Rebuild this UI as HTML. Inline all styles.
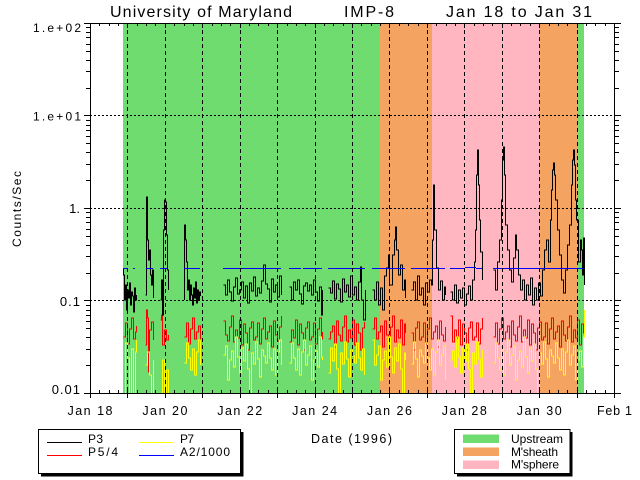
<!DOCTYPE html>
<html><head><meta charset="utf-8"><style>
html,body{margin:0;padding:0;background:#fff;width:640px;height:480px;overflow:hidden}
svg{position:absolute;left:0;top:0;font-family:"Liberation Sans",sans-serif}
</style></head><body>
<svg width="640" height="480" viewBox="0 0 640 480" xmlns="http://www.w3.org/2000/svg">
<rect width="640" height="480" fill="#fff"/>
<defs><clipPath id="cp"><rect x="90" y="23" width="524" height="370"/></clipPath></defs>
<g shape-rendering="crispEdges">
<rect x="123" y="23" width="257" height="370" fill="#6fdc6f"/>
<rect x="380" y="23" width="52" height="370" fill="#f4a460"/>
<rect x="432" y="23" width="107.3" height="370" fill="#ffb6c1"/>
<rect x="539.3" y="23" width="38" height="370" fill="#f4a460"/>
<rect x="577.3" y="23" width="6.7" height="370" fill="#6fdc6f"/>
</g>

<g clip-path="url(#cp)" fill="none" stroke-width="1" shape-rendering="crispEdges">
<path stroke="#ff0000" d="M123.5 337H125.5V323H127.5V344H129.5V329H131.5V318H133.5V339H135.5V332H136.5V326
M145.5 345H146.5V310H147.5V318H148.5V372H149.5V330H151.5V322H153.5V340
M160.5 320H161.5V315H162.5V345H164.5V330H166.5V340H168.5V335
M184.5 337H186.5V323H188.5V344H190.5V329H192.5V318H194.5V339H196.5V332H198.5V326H200.5V347
M223.5 321H225.5V335H227.5V341H229.5V327H231.5V316H233.5V342H235.5V330H237.5V338H239.5V320H241.5V345H243.5V324H245.5V333H247.5V350H249.5V328H251.5V322H253.5V340H255.5V337H257.5V323H259.5V344H261.5V329H263.5V318H265.5V339H267.5V332H269.5V326H271.5V347H273.5V321H275.5V335H277.5V341H279.5V327H281.5V316
M289.5 342H291.5V330H293.5V338H295.5V320H297.5V345H299.5V324H301.5V333H303.5V350H305.5V328H307.5V322H309.5V340H311.5V337H313.5V323H315.5V344H317.5V329H319.5V318H321.5V339H322.5V332
M328.5 339H330.5V332H332.5V326H334.5V347H336.5V321H338.5V335H340.5V341H342.5V327H344.5V316H346.5V342H348.5V330H350.5V338H352.5V320H354.5V345H356.5V324H358.5V333H360.5V350H362.5V328H364.5V322
M372.5 329H374.5V318H376.5V339H378.5V332H380.5V326H382.5V347H384.5V321H386.5V335H388.5V341H390.5V327H392.5V316H394.5V342H396.5V330H398.5V338H400.5V320H402.5V345H404.5V324H405.5V333
M411.5 333H413.5V350H415.5V328H417.5V322H419.5V340H421.5V337H423.5V323H425.5V344H427.5V329H429.5V318H431.5V339H433.5V332H435.5V326H437.5V347H439.5V321H441.5V335H443.5V341H445.5V327
M450.5 316H452.5V342H454.5V330H456.5V338H458.5V320H460.5V345H462.5V324H464.5V333H466.5V350H468.5V328H470.5V322H472.5V340H474.5V337H476.5V323H478.5V344H480.5V329H482.5V318
M493.5 337H495.5V323H497.5V344H499.5V329H501.5V318H503.5V339H505.5V332H507.5V326H509.5V347H511.5V321H513.5V335H515.5V341H517.5V327H519.5V316H521.5V342H523.5V330H525.5V338H527.5V320H529.5V345H531.5V324H533.5V333H535.5V350H537.5V328H539.5V322H541.5V340H543.5V337H545.5V323H547.5V344H549.5V329H551.5V318H553.5V339H555.5V332H557.5V326H559.5V347H561.5V321H563.5V335H565.5V341H567.5V327H569.5V316H571.5V342H573.5V330H575.5V338H577.5V320H579.5V345H581.5V324H583.5V333H584.5V328"/>
<path stroke="#ffff00" d="M123.5 395H125.5V343H127.5V358H129.5V395H131.5V349H133.5V395H135.5V352H136.5V340
M145.5 365H147.5V352H149.5V375H151.5V395H153.5V360
M160.5 395H162.5V360H164.5V395H166.5V370H168.5V395
M184.5 363H186.5V343H188.5V358H190.5V370H192.5V349H194.5V375H196.5V352H198.5V340H200.5V365
M223.5 355H225.5V346H227.5V380H229.5V360H231.5V351H233.5V367H235.5V337H237.5V357H239.5V373H241.5V348H243.5V361H245.5V344H247.5V369H249.5V395H251.5V353H253.5V364H255.5V342H257.5V359H259.5V377H261.5V350H263.5V356H265.5V363H267.5V343H269.5V358H271.5V370H273.5V349H275.5V375H277.5V352H279.5V340H281.5V365
M289.5 363H291.5V343H293.5V358H295.5V370H297.5V349H299.5V375H301.5V352H303.5V340H305.5V365H307.5V355H309.5V346H311.5V380H313.5V360H315.5V351H317.5V367H319.5V337H321.5V357H322.5V360
M328.5 373H330.5V348H332.5V361H334.5V344H336.5V369H338.5V395H340.5V353H342.5V364H344.5V342H346.5V359H348.5V377H350.5V350H352.5V356H354.5V363H356.5V343H358.5V358H360.5V370H362.5V349H364.5V375
M372.5 340H374.5V365H376.5V355H378.5V346H380.5V380H382.5V360H384.5V351H386.5V367H388.5V337H390.5V357H392.5V373H394.5V348H396.5V361H398.5V344H400.5V369H402.5V395H404.5V353H405.5V360
M411.5 364H413.5V342H415.5V359H417.5V377H419.5V350H421.5V356H423.5V363H425.5V343H427.5V358H429.5V370H431.5V349H433.5V375H435.5V352H437.5V340H439.5V365H441.5V355H443.5V346H445.5V380
M450.5 360H452.5V351H454.5V367H456.5V337H458.5V357H460.5V373H462.5V348H464.5V361H466.5V344H468.5V369H470.5V395H472.5V353H474.5V364H476.5V342H478.5V359H480.5V377H482.5V350
M493.5 363H495.5V343H497.5V358H499.5V370H501.5V349H503.5V375H505.5V352H507.5V340H509.5V365H511.5V355H513.5V346H515.5V380H517.5V360H519.5V351H521.5V367H523.5V337H525.5V357H527.5V373H529.5V348H531.5V361H533.5V344H535.5V369H537.5V395H539.5V353H541.5V364H543.5V342H545.5V359H547.5V377H549.5V350H551.5V356H553.5V363H555.5V343H557.5V358H559.5V370H561.5V349H563.5V375H565.5V352H567.5V340H569.5V365H571.5V355H573.5V346H575.5V380H577.5V360H579.5V351H581.5V367H583.5V337H584.5V310"/>
<path stroke="#000000" d="M123.5 268V275H124.5V300H125.5V285H126.5V310H127.5V290H128.5V298H129.5V283H130.5V305H131.5V292H132.5V296H133.5V312H134.5V288H135.5V300H136.5V295
M145.5 295H146.5V197H147.5V240H148.5V260H149.5V250H150.5V275H151.5V285H152.5V270H153.5V298
M160.5 300H161.5V280H162.5V315H163.5V230H164.5V200H165.5V202H166.5V235H167.5V270H168.5V290
M184.5 300V225H185.5V240H186.5V262H187.5V290H188.5V280H189.5V300H190.5V285H191.5V295H192.5V305H193.5V288H194.5V298H195.5V282H196.5V303H197.5V290H198.5V300H199.5V292H200.5V296
M223.5 285H225.5V295H227.5V280H229.5V292H231.5V301H233.5V287H235.5V278H237.5V294H239.5V290H241.5V282H243.5V298H245.5V286H247.5V303H249.5V283H251.5V291H253.5V277H255.5V296H257.5V288H259.5V293H261.5V281H263.5V265H265.5V284H267.5V289H269.5V302H271.5V279H273.5V292H275.5V285H277.5V297H279.5V276H281.5V295
M289.5 287H291.5V300H293.5V282H295.5V290H297.5V280H299.5V294H301.5V304H303.5V286H305.5V283H307.5V291H309.5V285H311.5V295H313.5V280H315.5V292H317.5V301H319.5V287H321.5V315H322.5V290
M328.5 288H330.5V293H332.5V281H334.5V299H336.5V284H338.5V289H340.5V302H342.5V279H344.5V292H346.5V285H348.5V297H350.5V276H352.5V295H354.5V287H356.5V300H358.5V282H360.5V267H361.5V300H363.5V320H365.5V290
M372.5 290H374.5V300H376.5V282H378.5V305H380.5V288H382.5V310H384.5V276H386.5V268H388.5V255H389.5V285H392.5V255H394.5V240H395.5V227H396.5V250H398.5V275H400.5V265H402.5V290H404.5V280H405.5V298
M411.5 290H413.5V282H415.5V300H417.5V276H419.5V295H421.5V288H423.5V305H425.5V283H427.5V292H429.5V280H431.5V285H432.5V240H433.5V185H434.5V230H436.5V268H438.5V290H440.5V281H442.5V300H444.5V287H445.5V295
M450.5 292H452.5V300H454.5V285H456.5V303H458.5V290H460.5V298H462.5V288H464.5V305H466.5V294H468.5V286H470.5V300H472.5V280H474.5V262H475.5V230H476.5V175H477.5V150H478.5V185H479.5V220H480.5V252H482.5V280
M493.5 270H495.5V290H497.5V262H499.5V240H501.5V200H502.5V160H503.5V147H504.5V175H505.5V225H507.5V250H509.5V270H511.5V282H513.5V258H515.5V235H516.5V250H518.5V275H520.5V290H522.5V280H524.5V300H526.5V285H528.5V295H530.5V278H532.5V305H534.5V288H536.5V300H538.5V283H540.5V296H542.5V270H544.5V250H546.5V240H548.5V262H550.5V220H551.5V190H552.5V170H553.5V163H554.5V175H555.5V200H557.5V230H559.5V255H561.5V280H563.5V293H565.5V270H567.5V245H569.5V225H571.5V185H572.5V160H573.5V150H574.5V165H575.5V200H576.5V220H578.5V262H580.5V240H581.5V250H582.5V275H583.5V238H584.5V285"/>
<path stroke="#0000ff" d="M123 268.5H127M133 268.5H135M146 268.5H153M160 268.5H167M184 268.5H200M223 268.5H281M289 268.5H301M303 268.5H322M328 268.5H365M372 268.5H405M411 268.5H445M450 268.5H465M465 267.5H476M476 268.5H482M493 268.5H584"/>
</g>

<g stroke="#000" stroke-width="1" fill="none" shape-rendering="crispEdges">
<path stroke-dasharray="4 3" d="M127.5 23V393M165.5 23V393M202.5 23V393M240.5 23V393M277.5 23V393M315.5 23V393M352.5 23V393M389.5 23V393M427.5 23V393M464.5 23V393M502.5 23V393M539.5 23V393M577.5 23V393"/>
<path stroke-dasharray="2 2" d="M90 115.5H614M90 208.5H614M90 300.5H614"/>
<path d="M90.5 23.5H614.5V393.5H90.5Z"/>
<path d="M99.5 23V26M109.5 23V26M118.5 23V26M137.5 23V26M146.5 23V26M155.5 23V26M174.5 23V26M184.5 23V26M193.5 23V26M212.5 23V26M221.5 23V26M230.5 23V26M249.5 23V26M258.5 23V26M268.5 23V26M287.5 23V26M296.5 23V26M305.5 23V26M324.5 23V26M333.5 23V26M343.5 23V26M361.5 23V26M371.5 23V26M380.5 23V26M399.5 23V26M408.5 23V26M418.5 23V26M436.5 23V26M446.5 23V26M455.5 23V26M474.5 23V26M483.5 23V26M492.5 23V26M511.5 23V26M520.5 23V26M530.5 23V26M549.5 23V26M558.5 23V26M567.5 23V26M586.5 23V26M595.5 23V26M605.5 23V26
M90.5 23V28M127.5 23V28M165.5 23V28M202.5 23V28M240.5 23V28M277.5 23V28M315.5 23V28M352.5 23V28M389.5 23V28M427.5 23V28M464.5 23V28M502.5 23V28M539.5 23V28M577.5 23V28M614.5 23V28"/>
<path d="M99.5 394V390M109.5 394V390M118.5 394V390M137.5 394V390M146.5 394V390M155.5 394V390M174.5 394V390M184.5 394V390M193.5 394V390M212.5 394V390M221.5 394V390M230.5 394V390M249.5 394V390M258.5 394V390M268.5 394V390M287.5 394V390M296.5 394V390M305.5 394V390M324.5 394V390M333.5 394V390M343.5 394V390M361.5 394V390M371.5 394V390M380.5 394V390M399.5 394V390M408.5 394V390M418.5 394V390M436.5 394V390M446.5 394V390M455.5 394V390M474.5 394V390M483.5 394V390M492.5 394V390M511.5 394V390M520.5 394V390M530.5 394V390M549.5 394V390M558.5 394V390M567.5 394V390M586.5 394V390M595.5 394V390M605.5 394V390
M90.5 388V398M127.5 388V398M165.5 388V398M202.5 388V398M240.5 388V398M277.5 388V398M315.5 388V398M352.5 388V398M389.5 388V398M427.5 388V398M464.5 388V398M502.5 388V398M539.5 388V398M577.5 388V398M614.5 388V398"/>
<path d="M84 23.5H90M84 115.5H90M84 208.5H90M84 300.5H90M84 393.5H90
M614 23.5H621M614 115.5H621M614 208.5H621M614 300.5H621M614 393.5H621
M86 365.5H90M86 349.5H90M86 337.5H90M86 328.5H90M86 321.5H90M86 315.5H90M86 310.5H90M86 305.5H90
M86 273.5H90M86 256.5H90M86 245.5H90M86 236.5H90M86 229.5H90M86 222.5H90M86 217.5H90M86 212.5H90
M86 180.5H90M86 164.5H90M86 152.5H90M86 143.5H90M86 136.5H90M86 130.5H90M86 125.5H90M86 120.5H90
M86 88.5H90M86 71.5H90M86 60.5H90M86 51.5H90M86 44.5H90M86 37.5H90M86 32.5H90M86 27.5H90
M614 365.5H619M614 349.5H619M614 337.5H619M614 328.5H619M614 321.5H619M614 315.5H619M614 310.5H619M614 305.5H619
M614 273.5H619M614 256.5H619M614 245.5H619M614 236.5H619M614 229.5H619M614 222.5H619M614 217.5H619M614 212.5H619
M614 180.5H619M614 164.5H619M614 152.5H619M614 143.5H619M614 136.5H619M614 130.5H619M614 125.5H619M614 120.5H619
M614 88.5H619M614 71.5H619M614 60.5H619M614 51.5H619M614 44.5H619M614 37.5H619M614 32.5H619M614 27.5H619"/>
</g>

<g fill="#000" font-size="16">
<text x="110" y="17" textLength="182" lengthAdjust="spacing">University of Maryland</text>
<text x="344" y="17" textLength="50" lengthAdjust="spacing">IMP-8</text>
<text x="446" y="17" textLength="146" lengthAdjust="spacing">Jan 18 to Jan 31</text>
</g>
<g fill="#000" font-size="12" text-anchor="end">
<text x="81" y="32" textLength="48" lengthAdjust="spacing">1.e+02</text>
<text x="81" y="120.5" textLength="48" lengthAdjust="spacing">1.e+01</text>
<text x="80" y="213" font-size="13">1.</text>
<text x="81" y="306" font-size="13" letter-spacing="1">0.1</text>
<text x="81" y="394" font-size="13" letter-spacing="1">0.01</text>
</g>
<g fill="#000" font-size="12.5" text-anchor="middle">
<text x="90" y="415" textLength="45" lengthAdjust="spacing">Jan 18</text>
<text x="164.9" y="415" textLength="45" lengthAdjust="spacing">Jan 20</text>
<text x="239.7" y="415" textLength="45" lengthAdjust="spacing">Jan 22</text>
<text x="314.6" y="415" textLength="45" lengthAdjust="spacing">Jan 24</text>
<text x="389.4" y="415" textLength="45" lengthAdjust="spacing">Jan 26</text>
<text x="464.3" y="415" textLength="45" lengthAdjust="spacing">Jan 28</text>
<text x="539.2" y="415" textLength="45" lengthAdjust="spacing">Jan 30</text>
<text x="614.5" y="415" textLength="35" lengthAdjust="spacing">Feb 1</text>
<text x="351.5" y="443" textLength="81" lengthAdjust="spacing">Date (1996)</text>
<text transform="translate(21,209) rotate(-90)" x="0" y="0" textLength="76" lengthAdjust="spacing" font-size="12">Counts/Sec</text>
</g>

<g shape-rendering="crispEdges">
<rect x="41" y="432" width="202.5" height="44.5" fill="#000"/>
<rect x="38.5" y="429.5" width="202" height="44" fill="#fff" stroke="#000" stroke-width="1"/>
<line x1="47" y1="442.5" x2="82" y2="442.5" stroke="#000"/>
<line x1="47" y1="455.5" x2="82" y2="455.5" stroke="#ff0000"/>
<line x1="139" y1="442.5" x2="174" y2="442.5" stroke="#ffff00"/>
<line x1="139" y1="455.5" x2="174" y2="455.5" stroke="#0000ff"/>
</g>
<g fill="#000" font-size="12">
<text x="88" y="443" textLength="15" lengthAdjust="spacing">P3</text>
<text x="88" y="456" textLength="30" lengthAdjust="spacing">P5/4</text>
<text x="180" y="443" textLength="14" lengthAdjust="spacing">P7</text>
<text x="180" y="456" textLength="50" lengthAdjust="spacing">A2/1000</text>
</g>

<g shape-rendering="crispEdges">
<rect x="457" y="432" width="115.5" height="44.5" fill="#000"/>
<rect x="454.5" y="429.5" width="115.5" height="44" fill="#fff" stroke="#000" stroke-width="1"/>
<rect x="463" y="434.5" width="36" height="8.5" fill="#6fdc6f"/>
<rect x="463" y="447.5" width="36" height="8.5" fill="#f4a460"/>
<rect x="463" y="460.5" width="36" height="8.5" fill="#ffb6c1"/>
</g>
<g fill="#000" font-size="12">
<text x="511" y="443" textLength="52" lengthAdjust="spacing">Upstream</text>
<text x="511" y="456" textLength="47" lengthAdjust="spacing">M'sheath</text>
<text x="511" y="468.5" textLength="48" lengthAdjust="spacing">M'sphere</text>
</g>
</svg>
</body></html>
